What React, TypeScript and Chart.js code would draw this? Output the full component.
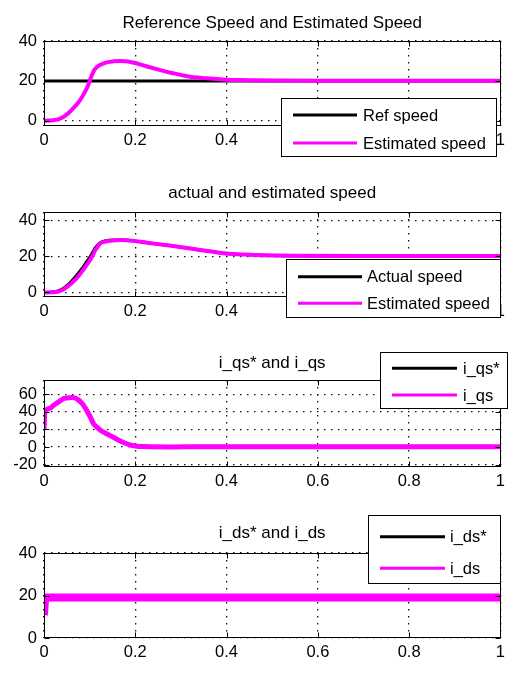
import React, { useEffect, useRef } from "react";
import { Chart, registerables } from "chart.js";

Chart.register(...registerables);

const FONT = "'Liberation Sans', Arial, Helvetica, sans-serif";
const MAGENTA = "#ff00ff";
const BLACK = "#000000";

// ---------- shared x axis ----------
const xTickValues = [0, 0.2, 0.4, 0.6, 0.8, 1];
const xTickLabels = ["0", "0.2", "0.4", "0.6", "0.8", "1"];

// ---------- subplot 1: Reference Speed and Estimated Speed ----------
const yTicks1 = [0, 20, 40];
const refTime1 = [0, 1];
const refSpeed1 = [20, 20];
const estTime1 = [
  0, 0.01, 0.02, 0.028, 0.037, 0.046, 0.055, 0.064, 0.074, 0.083,
  0.09, 0.097, 0.104, 0.11, 0.118, 0.128, 0.14, 0.152, 0.165, 0.178,
  0.189, 0.2, 0.21, 0.228, 0.247, 0.265, 0.284, 0.302, 0.32, 0.34,
  0.357, 0.38, 0.4, 0.43, 0.46, 0.5, 0.6, 0.7, 0.8, 0.9, 1.0,
];
const estSpeed1 = [
  0, 0.1, 0.3, 0.6, 1.3, 2.5, 4.2, 6.3, 8.8, 11.8,
  14.6, 18.0, 22.4, 25.4, 27.3, 28.5, 29.4, 29.8, 30.0, 29.8,
  29.5, 29.0, 28.3, 27.1, 25.9, 24.8, 23.8, 22.9, 22.1, 21.6,
  21.3, 20.9, 20.6, 20.4, 20.3, 20.2, 20.1, 20.1, 20.1, 20.1, 20.1,
];

// ---------- subplot 2: actual and estimated speed ----------
const yTicks2 = [0, 20, 40];
const time2 = [
  0, 0.015, 0.031, 0.04, 0.05, 0.059, 0.068, 0.077, 0.086, 0.094,
  0.101, 0.107, 0.112, 0.118, 0.123, 0.134, 0.145, 0.158, 0.17, 0.183,
  0.196, 0.22, 0.25, 0.275, 0.298, 0.325, 0.35, 0.375, 0.4, 0.44,
  0.48, 0.55, 0.7, 0.85, 1.0,
];
const actualSpeed2 = [
  0, 0.2, 0.8, 1.9, 3.8, 5.9, 8.4, 11.2, 14.2, 17.2,
  19.8, 22.4, 24.6, 26.3, 27.6, 28.5, 28.9, 29.1, 29.1, 29.0,
  28.6, 27.8, 26.8, 26.0, 25.2, 24.2, 23.3, 22.4, 21.6, 21.0,
  20.6, 20.3, 20.1, 20.0, 20.0,
];
const estSpeed2 = [
  0, 0.1, 0.5, 1.4, 3.0, 4.8, 7.0, 9.6, 12.5, 15.4,
  18.0, 20.8, 23.4, 25.5, 27.1, 28.2, 28.7, 29.0, 29.1, 29.0,
  28.6, 27.8, 26.8, 26.0, 25.2, 24.2, 23.3, 22.4, 21.6, 21.0,
  20.6, 20.3, 20.2, 20.2, 20.2,
];

// ---------- subplot 3: i_qs* and i_qs ----------
const yTicks3 = [-20, 0, 20, 40, 60];
const iqsTime = [
  0, 0.002, 0.013, 0.02, 0.028, 0.035, 0.042, 0.05, 0.061, 0.068,
  0.075, 0.081, 0.086, 0.092, 0.097, 0.103, 0.108, 0.115, 0.123, 0.134,
  0.145, 0.156, 0.167, 0.178, 0.189, 0.2, 0.218, 0.24, 0.28, 0.35,
  0.5, 0.7, 0.85, 1.0,
];
const iqsRef = [
  20, 40, 44, 47, 50, 52.5, 54.9, 55.8, 56.4, 55.8,
  53.7, 51, 48, 43, 38.5, 32.5, 27.1, 23, 19.4, 16,
  13, 10, 6.9, 4.3, 2.3, 1.3, 0.5, 0.3, 0.2, 0.3,
  0.3, 0.4, 0.4, 0.4,
];
const iqs = [
  20, 40, 44, 47, 50, 52.5, 54.9, 55.8, 56.4, 55.8,
  53.7, 51, 48, 43, 38.5, 32.5, 27.1, 23, 19.4, 16,
  13, 10, 6.9, 4.3, 2.3, 1.3, 0.5, 0.3, 0.2, 0.3,
  0.3, 0.4, 0.4, 0.4,
];

// ---------- subplot 4: i_ds* and i_ds ----------
const yTicks4 = [0, 20, 40];
const idsRefTime = [0, 1];
const idsRef = [19.1, 19.1];
const idsTime = [0, 0.003, 0.5, 1.0];
const ids = [10.7, 19.1, 19.1, 19.1];

type Series = {
  label: string;
  color: string;
  width: number;
  order: number;
  t: number[];
  v: number[];
};

type PanelCfg = {
  top: number;
  height: number;
  areaTop: number;
  areaBottom: number;
  areaLeft: number;
  areaRight: number;
  yMin: number;
  yMax: number;
  yTicks: number[];
  title: string;
  titleBaseline: number;
  legend: {
    x: number;
    y: number;
    w: number;
    h: number;
    rows: number[];
    lineX0: number;
    lineX1: number;
    textX: number;
  };
  series: Series[];
};

const panels: PanelCfg[] = [
  {
    top: 0,
    height: 170,
    areaTop: 41,
    areaBottom: 126,
    areaLeft: 44,
    areaRight: 501,
    yMin: -2.6,
    yMax: 40,
    yTicks: yTicks1,
    title: "Reference Speed and Estimated Speed",
    titleBaseline: 28,
    legend: { x: 281, y: 98, w: 215, h: 58, rows: [115, 143], lineX0: 293, lineX1: 357, textX: 363 },
    series: [
      { label: "Ref speed", color: BLACK, width: 3, order: 2, t: refTime1, v: refSpeed1 },
      { label: "Estimated speed", color: MAGENTA, width: 4, order: 1, t: estTime1, v: estSpeed1 },
    ],
  },
  {
    top: 170,
    height: 170,
    areaTop: 42,
    areaBottom: 127,
    areaLeft: 44,
    areaRight: 501,
    yMin: -2.5,
    yMax: 44.6,
    yTicks: yTicks2,
    title: "actual and estimated speed",
    titleBaseline: 28,
    legend: { x: 286, y: 89, w: 214, h: 58, rows: [106.7, 133.3], lineX0: 298, lineX1: 362, textX: 367 },
    series: [
      { label: "Actual speed", color: BLACK, width: 3, order: 2, t: time2, v: actualSpeed2 },
      { label: "Estimated speed", color: MAGENTA, width: 4, order: 1, t: time2, v: estSpeed2 },
    ],
  },
  {
    top: 340,
    height: 165,
    areaTop: 40,
    areaBottom: 127,
    areaLeft: 44,
    areaRight: 501,
    yMin: -22.7,
    yMax: 76.3,
    yTicks: yTicks3,
    title: "i_qs* and i_qs",
    titleBaseline: 28.3,
    legend: { x: 380, y: 12, w: 127, h: 56, rows: [28.3, 55], lineX0: 392, lineX1: 457, textX: 463 },
    series: [
      { label: "i_qs*", color: BLACK, width: 2, order: 2, t: iqsTime, v: iqsRef },
      { label: "i_qs", color: MAGENTA, width: 5, order: 1, t: iqsTime, v: iqs },
    ],
  },
  {
    top: 505,
    height: 170,
    areaTop: 48,
    areaBottom: 133,
    areaLeft: 44,
    areaRight: 501,
    yMin: 0,
    yMax: 40,
    yTicks: yTicks4,
    title: "i_ds* and i_ds",
    titleBaseline: 33.3,
    legend: { x: 368, y: 10, w: 132, h: 68, rows: [31.7, 63.3], lineX0: 380, lineX1: 445, textX: 450 },
    series: [
      { label: "i_ds*", color: BLACK, width: 2, order: 2, t: idsRefTime, v: idsRef },
      { label: "i_ds", color: MAGENTA, width: 8, order: 1, t: idsTime, v: ids },
    ],
  },
];

function makeDecor(p: PanelCfg) {
  return {
    id: "decor",
    afterDraw(chart: any) {
      const ctx: CanvasRenderingContext2D = chart.ctx;
      const a = chart.chartArea;
      const xs = chart.scales.x;
      const ys = chart.scales.y;
      ctx.save();
      // axes box
      ctx.strokeStyle = "#000";
      ctx.lineWidth = 1;
      const L = Math.round(a.left) + 0.5;
      const T = Math.round(a.top) + 0.5;
      const R = Math.round(a.right) + 0.5;
      const B = Math.round(a.bottom) - 0.5;
      ctx.strokeRect(L, T, R - L, B - T);
      // inward tick marks
      ctx.beginPath();
      xTickValues.forEach((v) => {
        const px = Math.round(xs.getPixelForValue(v)) + 0.5;
        ctx.moveTo(px, B);
        ctx.lineTo(px, B - 5);
        ctx.moveTo(px, T);
        ctx.lineTo(px, T + 5);
      });
      p.yTicks.forEach((v) => {
        const py = Math.round(ys.getPixelForValue(v)) + 0.5;
        ctx.moveTo(L, py);
        ctx.lineTo(L + 5, py);
        ctx.moveTo(R, py);
        ctx.lineTo(R - 5, py);
      });
      ctx.stroke();
      // title
      ctx.fillStyle = "#000";
      ctx.font = `17px ${FONT}`;
      ctx.textAlign = "center";
      ctx.textBaseline = "alphabetic";
      ctx.fillText(p.title, (a.left + a.right) / 2, p.titleBaseline);
      // legend
      const lg = p.legend;
      ctx.fillStyle = "#fff";
      ctx.fillRect(lg.x, lg.y, lg.w, lg.h);
      ctx.strokeStyle = "#000";
      ctx.lineWidth = 1;
      ctx.strokeRect(Math.round(lg.x) + 0.5, Math.round(lg.y) + 0.5, Math.round(lg.w), Math.round(lg.h));
      ctx.font = `16.5px ${FONT}`;
      chart.data.datasets.forEach((ds: any, i: number) => {
        const y = lg.rows[i];
        ctx.strokeStyle = ds.borderColor;
        ctx.lineWidth = 3;
        ctx.beginPath();
        ctx.moveTo(lg.lineX0, y);
        ctx.lineTo(lg.lineX1, y);
        ctx.stroke();
        ctx.fillStyle = "#000";
        ctx.textAlign = "left";
        ctx.textBaseline = "middle";
        ctx.fillText(ds.label, lg.textX, y + 1);
      });
      ctx.restore();
    },
  };
}

function Panel({ p }: { p: PanelCfg }) {
  const ref = useRef<HTMLCanvasElement>(null);
  useEffect(() => {
    const canvas = ref.current;
    if (!canvas) return;
    const chart = new Chart(canvas, {
      type: "line",
      data: {
        datasets: p.series.map((s) => ({
          label: s.label,
          data: s.t.map((t, i) => ({ x: t, y: s.v[i] })),
          borderColor: s.color,
          backgroundColor: s.color,
          borderWidth: s.width,
          pointRadius: 0,
          cubicInterpolationMode: "monotone" as const,
          borderJoinStyle: "round" as const,
          fill: false,
          order: s.order,
          clip: 0,
        })),
      },
      options: {
        animation: false,
        responsive: false,
        maintainAspectRatio: false,
        devicePixelRatio: 1,
        events: [],
        layout: {
          padding: { left: 0, top: p.areaTop, right: 510 - p.areaRight, bottom: 0 },
        },
        plugins: {
          legend: { display: false },
          title: { display: false },
          tooltip: { enabled: false },
        },
        scales: {
          x: {
            type: "linear",
            min: 0,
            max: 1,
            afterFit: (s: any) => {
              s.height = p.height - p.areaBottom;
            },
            afterBuildTicks: (s: any) => {
              s.ticks = xTickValues.map((v) => ({ value: v }));
            },
            ticks: {
              callback: (_v: any, i: number) => xTickLabels[i],
              padding: 5,
              color: "#000",
              font: { size: 16.5, family: FONT },
              maxRotation: 0,
              autoSkip: false,
            },
            grid: { color: "#111", lineWidth: 1.3, drawTicks: false },
            border: { display: false, dash: [1.5, 5.5] },
          },
          y: {
            type: "linear",
            min: p.yMin,
            max: p.yMax,
            afterFit: (s: any) => {
              s.width = p.areaLeft;
            },
            afterBuildTicks: (s: any) => {
              s.ticks = p.yTicks.map((v) => ({ value: v }));
            },
            ticks: {
              callback: (v: any) => String(v),
              padding: 7,
              color: "#000",
              font: { size: 16.5, family: FONT },
              autoSkip: false,
            },
            grid: { color: "#111", lineWidth: 1.3, drawTicks: false },
            border: { display: false, dash: [1.5, 5.5] },
          },
        },
      },
      plugins: [makeDecor(p)],
    } as any);
    return () => chart.destroy();
  }, [p]);
  return (
    <canvas
      ref={ref}
      width={510}
      height={p.height}
      style={{ position: "absolute", left: 0, top: p.top, width: 510, height: p.height, display: "block" }}
    />
  );
}

export default function App() {
  return (
    <div
      style={{
        position: "absolute",
        left: 0,
        top: 0,
        width: 510,
        height: 675,
        background: "#fff",
        overflow: "hidden",
      }}
    >
      {panels.map((p, i) => (
        <Panel key={i} p={p} />
      ))}
    </div>
  );
}
